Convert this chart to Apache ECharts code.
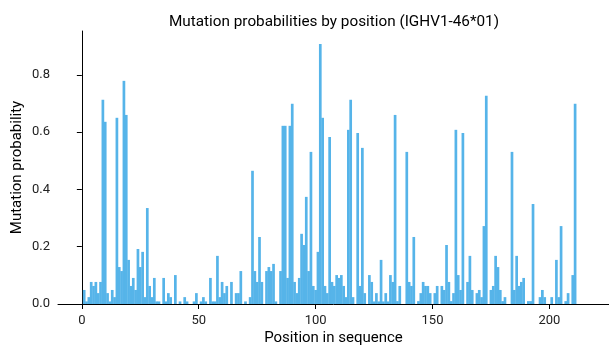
<!DOCTYPE html>
<html>
<head>
<meta charset="utf-8">
<script src="https://cdn.jsdelivr.net/npm/echarts@6/dist/echarts.min.js"></script>
<style>html,body{margin:0;padding:0;background:#fff;}#c{width:609px;height:345px;}</style>
</head>
<body>
<div id="c"></div>
<script>
const positions = [];
for (let p = 1; p <= 211; p++) positions.push(p);
const probabilities = [
  0.049,0.009,0.024,0.077,0.063,0.077,0.038,0.077,0.713,0.636,
  0.038,0.009,0.049,0.024,0.650,0.129,0.115,0.779,0.660,0.154,
  0.063,0.091,0.049,0.192,0.129,0.182,0.024,0.335,0.063,0.024,
  0.091,0.009,0.009,0,0.091,0.009,0.038,0.024,0,0.101,
  0,0.009,0,0.024,0.009,0,0,0.009,0.038,0,
  0.009,0.024,0.009,0,0.091,0.009,0.009,0.168,0.024,0.077,
  0.038,0.063,0,0.077,0,0.038,0.038,0.115,0,0.009,
  0,0.024,0.465,0.115,0.077,0.234,0.077,0,0.115,0.129,
  0.115,0.140,0.009,0,0.115,0.622,0.622,0.091,0.622,0.699,
  0.077,0.038,0.091,0.245,0.206,0.374,0.115,0.531,0.063,0.049,
  0.182,0.908,0.650,0.063,0.038,0.583,0.077,0.063,0.101,0.091,
  0.101,0.063,0.024,0.608,0.713,0.024,0,0.597,0.063,0.545,
  0.038,0,0.101,0.077,0.009,0.038,0.009,0.154,0.009,0.038,
  0.009,0.101,0.077,0.660,0.010,0.063,0,0,0.531,0.077,
  0.063,0.234,0,0.010,0.038,0.077,0.063,0.063,0.038,0,
  0.038,0.063,0,0.063,0.049,0.206,0.077,0.010,0.038,0.608,
  0.101,0.049,0.597,0,0.077,0.168,0.049,0,0.038,0.049,
  0.024,0.272,0.727,0,0.049,0.063,0.168,0.129,0.049,0.010,
  0.024,0,0,0.531,0.049,0.168,0.063,0.077,0.091,0,
  0.010,0.010,0.349,0,0,0.024,0.049,0.024,0,0,
  0.024,0,0.154,0.024,0.272,0,0.010,0.038,0,0.101,
  0.699
];
const xTicks = [0, 50, 100, 150, 200];
const yTicks = [0, 0.2, 0.4, 0.6, 0.8];

const titleText = 'Mutation probabilities by position (IGHV1-46*01)';
const xName = 'Position in sequence';
const yName = 'Mutation probability';

const chart = echarts.init(document.getElementById('c'), null, {renderer: 'canvas'});
const font = 'Roboto';
chart.setOption({
  animation: false,
  backgroundColor: '#ffffff',
  title: {
    text: titleText,
    left: 329,
    top: 10,
    textAlign: 'center',
    textStyle: {fontFamily: font, fontSize: 15.3, fontWeight: 'normal', color: '#000'}
  },
  grid: {left: 58, right: 0, top: 31, bottom: 41, containLabel: false, outerBoundsMode: 'none'},
  xAxis: {
    type: 'value',
    min: -10.2,
    max: 225.5,
    name: xName,
    nameLocation: 'middle',
    nameGap: 27,
    nameMoveOverlap: false,
    nameTextStyle: {fontFamily: font, fontSize: 15, color: '#000'},
    axisLine: {show: true, lineStyle: {color: '#000', width: 1}},
    axisTick: {show: true, length: 5, lineStyle: {color: '#000'}, customValues: xTicks},
    axisLabel: {fontFamily: font, fontSize: 13, color: '#222', margin: 10, customValues: xTicks, hideOverlap: false},
    splitLine: {show: false}
  },
  yAxis: {
    type: 'value',
    min: 0,
    max: 0.953,
    name: yName,
    nameLocation: 'middle',
    nameGap: 33,
    nameMoveOverlap: false,
    nameTextStyle: {fontFamily: font, fontSize: 15, color: '#000'},
    axisLine: {show: true, lineStyle: {color: '#000', width: 1}},
    axisTick: {show: true, length: 5, lineStyle: {color: '#000'}, customValues: yTicks},
    axisLabel: {fontFamily: font, fontSize: 13, color: '#222', margin: 8, hideOverlap: false,
      customValues: yTicks, formatter: v => Number(v).toFixed(1)},
    splitLine: {show: false}
  },
  series: [{
    type: 'bar',
    data: positions.map((p, i) => [p, probabilities[i]]),
    barWidth: 2.7,
    itemStyle: {color: '#56B4E9'},
    large: false
  }]
});
</script>
</body>
</html>
